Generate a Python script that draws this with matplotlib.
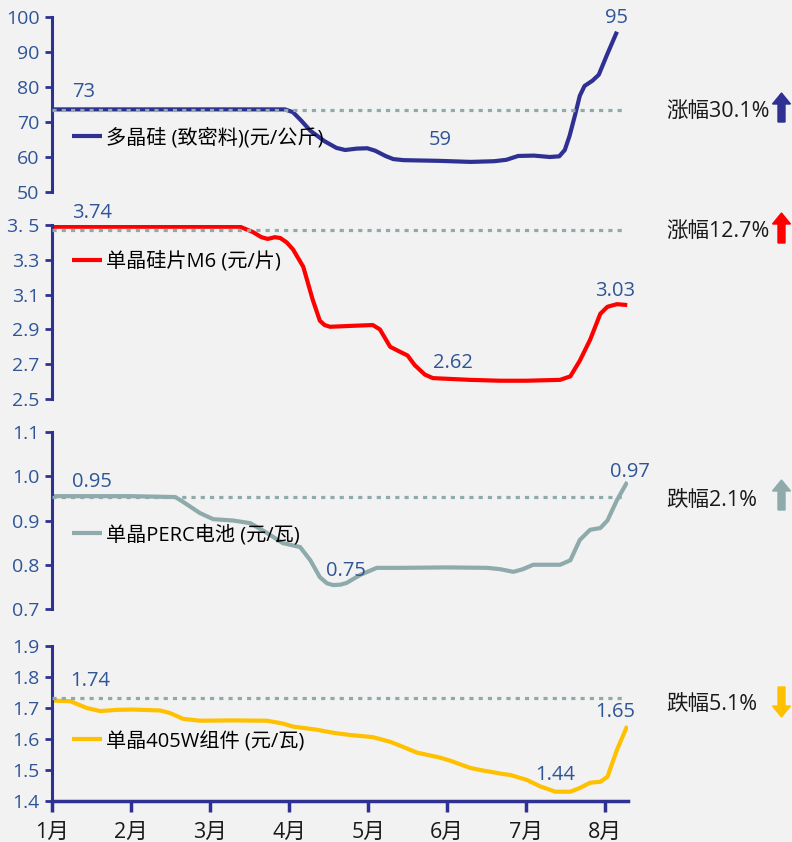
import matplotlib
matplotlib.use("Agg")
import matplotlib.pyplot as plt
import numpy as np
from matplotlib.patches import FancyArrow

plt.rcParams['font.family'] = ['Open Sans', 'Noto Sans CJK SC', 'DejaVu Sans']

# ---- data (x in months, 1 = 1月) ----
month_pos = [1, 2, 3, 4, 5, 6, 7, 8]
month_labels = ["1月", "2月", "3月", "4月", "5月", "6月", "7月", "8月"]

poly_x = [1.0, 1.5, 2.0, 2.5, 3.0, 3.5, 3.95, 4.05, 4.15, 4.27, 4.45, 4.6, 4.71, 4.86, 4.99, 5.09,
          5.22, 5.32, 5.45, 5.9, 6.3, 6.6, 6.75, 6.9, 7.1, 7.3, 7.42, 7.49, 7.55, 7.62, 7.68,
          7.74, 7.84, 7.92, 8.03, 8.15]
poly_y = [73.6, 73.6, 73.6, 73.6, 73.6, 73.6, 73.6, 72.8, 70.5, 67.5, 64.5, 62.6, 62.0, 62.4, 62.5, 61.8,
          60.3, 59.4, 59.1, 58.9, 58.6, 58.8, 59.2, 60.3, 60.4, 60.0, 60.2, 62.0, 66.0, 72.0, 77.5,
          80.3, 81.8, 83.5, 89.5, 95.8]

m6_x = [1.0, 1.5, 2.0, 2.5, 3.0, 3.38, 3.54, 3.65, 3.73, 3.82, 3.89, 3.97, 4.05, 4.18, 4.30, 4.39,
        4.45, 4.52, 4.77, 5.06, 5.15, 5.28, 5.41, 5.5, 5.59, 5.72, 5.82, 6.29, 6.67, 7.0, 7.43, 7.56,
        7.68, 7.81, 7.94, 8.03, 8.15, 8.28]
m6_y = [3.74, 3.74, 3.74, 3.74, 3.74, 3.74, 3.46, 3.43, 3.42, 3.43, 3.425, 3.40, 3.36, 3.26, 3.07, 2.95,
        2.925, 2.915, 2.92, 2.925, 2.90, 2.80, 2.77, 2.75, 2.695, 2.64, 2.62, 2.61, 2.605, 2.605, 2.61, 2.63,
        2.72, 2.84, 2.99, 3.03, 3.045, 3.04]

perc_x = [1.0, 1.5, 2.0, 2.56, 2.66, 2.87, 3.04, 3.29, 3.51, 3.72, 3.92, 4.14, 4.27, 4.39, 4.48, 4.56,
          4.65, 4.73, 4.90, 5.11, 5.41, 6.0, 6.51, 6.67, 6.84, 6.96, 7.09, 7.43, 7.56, 7.68, 7.81, 7.94,
          8.03, 8.15, 8.28]
perc_y = [0.955, 0.955, 0.955, 0.953, 0.942, 0.917, 0.903, 0.90, 0.894, 0.872, 0.849, 0.84, 0.81, 0.772, 0.758, 0.754,
          0.755, 0.759, 0.777, 0.793, 0.793, 0.794, 0.793, 0.79, 0.784, 0.79, 0.80, 0.80, 0.81, 0.856, 0.879, 0.883,
          0.90, 0.946, 0.987]

mod_x = [1.0, 1.23, 1.44, 1.61, 1.82, 2.03, 2.37, 2.49, 2.66, 2.87, 3.29, 3.72, 3.92, 4.05, 4.35,
         4.56, 4.77, 5.06, 5.28, 5.41, 5.62, 5.91, 6.04, 6.29, 6.42, 6.71, 6.80, 7.01, 7.18, 7.37,
         7.56, 7.68, 7.81, 7.94, 8.03, 8.15, 8.28]
mod_y = [1.724, 1.722, 1.70, 1.69, 1.694, 1.695, 1.692, 1.684, 1.665, 1.659, 1.66, 1.659, 1.65, 1.64, 1.63,
         1.62, 1.613, 1.606, 1.591, 1.578, 1.556, 1.54, 1.53, 1.507, 1.50, 1.487, 1.484, 1.468, 1.447, 1.43,
         1.43, 1.442, 1.459, 1.462, 1.478, 1.565, 1.642]

names = ["多晶硅 (致密料)(元/公斤)", "单晶硅片M6 (元/片)", "单晶PERC电池 (元/瓦)", "单晶405W组件 (元/瓦)"]
ref_levels = [73.5, 3.47, 0.953, 1.732]
changes = ["涨幅30.1%", "涨幅12.7%", "跌幅2.1%", "跌幅5.1%"]

yticks = [[50, 60, 70, 80, 90, 100],
          [2.5, 2.7, 2.9, 3.1, 3.3, 3.5],
          [0.7, 0.8, 0.9, 1.0, 1.1],
          [1.4, 1.5, 1.6, 1.7, 1.8, 1.9]]
ytick_labels = [["50", "60", "70", "80", "90", "100"],
                ["2.5", "2.7", "2.9", "3.1", "3.3", "3. 5"],
                ["0.7", "0.8", "0.9", "1.0", "1.1"],
                ["1.4", "1.5", "1.6", "1.7", "1.8", "1.9"]]

# value labels: (text, x, y)
value_labels = [
    [("73", 1.405, 78.6), ("59", 5.91, 64.9), ("95", 8.15, 99.7)],
    [("3.74", 1.51, 3.57), ("2.62", 6.08, 2.707), ("3.03", 8.13, 3.121)],
    [("0.95", 1.51, 0.987), ("0.75", 4.72, 0.786), ("0.97", 8.32, 1.01)],
    [("1.74", 1.48, 1.787), ("1.44", 7.37, 1.484), ("1.65", 8.13, 1.687)],
]

navy = "#2e3192"
red = "#ff0000"
grey = "#8faaab"
yellow = "#ffc000"
blue_txt = "#2f5597"
bg = "#f2f2f2"
colors = [navy, red, grey, yellow]

series_x = [poly_x, m6_x, perc_x, mod_x]
series_y = [poly_y, m6_y, perc_y, mod_y]

W, H = 792, 842
fig = plt.figure(figsize=(W / 100, H / 100), dpi=100, facecolor=bg)

# pixel boxes (top, bottom) of each panel
boxes = [(17, 192), (225, 399), (432, 609), (646, 801)]
legend_y = [0.309, 0.79, 0.418, 0.387]
left_px, right_px = 52, 628

for i in range(4):
    top, bot = boxes[i]
    ax = fig.add_axes([left_px / W, 1 - bot / H, (right_px - left_px) / W, (bot - top) / H])
    ax.set_facecolor(bg)
    lo, hi = yticks[i][0], yticks[i][-1]
    ax.set_xlim(1, 8.29)
    ax.set_ylim(lo, hi)

    y = np.minimum(np.array(series_y[i]), hi - 0.01 * (hi - lo))
    ax.plot(series_x[i], y, color=colors[i], lw=3, label=names[i], zorder=2,
            solid_capstyle='butt', solid_joinstyle='round')
    ax.plot([1, 8.24], [ref_levels[i], ref_levels[i]], color=grey, lw=2.3,
            linestyle=(0, (1.3, 1.6)), zorder=3)

    for txt, tx, ty in value_labels[i]:
        ax.text(tx, ty, txt, color=blue_txt, fontsize=14.5, ha='center', va='center',
                clip_on=False)

    for s in ['top', 'right']:
        ax.spines[s].set_visible(False)
    ax.spines['left'].set_color(navy)
    ax.spines['left'].set_linewidth(2.2)
    ax.set_yticks(yticks[i])
    ax.set_yticklabels(ytick_labels[i])
    ax.tick_params(axis='y', direction='out', length=5, width=2, color=navy,
                   labelcolor=blue_txt, labelsize=14, pad=4)

    if i < 3:
        ax.spines['bottom'].set_visible(False)
        ax.set_xticks([])
    else:
        ax.spines['bottom'].set_color(navy)
        ax.spines['bottom'].set_linewidth(2.5)
        ax.set_xticks(month_pos)
        ax.set_xticklabels(month_labels)
        ax.tick_params(axis='x', direction='out', length=8, width=2.5, color=navy,
                       labelcolor='#1a1a1a', labelsize=15.5, pad=7)

    ax.legend(loc='center left', bbox_to_anchor=(0.035, legend_y[i]), frameon=False,
              fontsize=14.5, handlelength=1.5, handletextpad=0.2, borderpad=0,
              borderaxespad=0)

    # right side change text and arrow
    mid = [112, 232, 500, 705][i]
    fig.text(666 / W, 1 - mid / H, changes[i], fontsize=15.5, color='#1a1a1a',
             ha='left', va='center')
    arrow_span = [(122, 93), (243, 213), (510, 480), (687, 717)][i]
    y0 = (H - arrow_span[0]) / 100
    dy = (arrow_span[0] - arrow_span[1]) / 100
    fig.add_artist(FancyArrow(7.815, y0, 0, dy, width=0.07, head_width=0.18,
                              head_length=0.11, length_includes_head=True,
                              color=colors[i], transform=fig.dpi_scale_trans))

fig.savefig("out.png", dpi=100, facecolor=bg)
